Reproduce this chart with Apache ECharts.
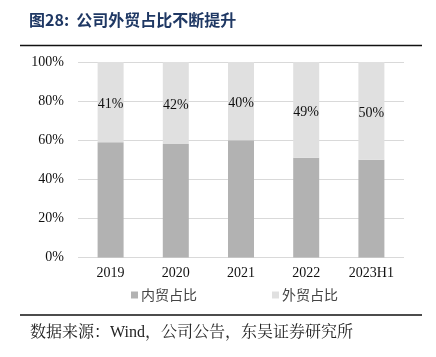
<!DOCTYPE html>
<html><head><meta charset="utf-8">
<script src="https://cdn.jsdelivr.net/npm/echarts@6/dist/echarts.min.js"></script>
<style>html,body{margin:0;padding:0;background:#fff}#c{width:436px;height:357px}</style>
</head><body><div id="c"></div>
<script>
const categories = ['2019','2020','2021','2022','2023H1'];
const domesticShare = [59, 58, 60, 51, 50];
const foreignShare = [41, 42, 40, 49, 50];
const yTicks = [0, 20, 40, 60, 80, 100];
const seriesNames = ['内贸占比', '外贸占比'];

const serif = '"Liberation Serif","Times New Roman","Noto Serif CJK SC","Noto Sans CJK SC",serif';
const chart = echarts.init(document.getElementById('c'));
chart.setOption({
  animation: false,
  grid: {left: 78, right: 32, top: 62, bottom: 99.5},
  legend: {
    data: seriesNames, top: 283, left: 126, itemWidth: 7, itemHeight: 7, itemGap: 75,
    icon: 'rect',
    textStyle: {fontFamily: '"Noto Sans CJK SC",sans-serif', fontSize: 14, color: '#444', padding: [0, 0, 0, -2]}
  },
  xAxis: {
    type: 'category', data: categories,
    axisLine: {show: false}, axisTick: {show: false},
    axisLabel: {fontFamily: serif, fontSize: 14, color: '#111', margin: 9}
  },
  yAxis: {
    type: 'value', min: 0, max: 100, interval: 20,
    axisLabel: {formatter: v => yTicks.includes(v) ? v + '%' : '', fontFamily: serif, fontSize: 14, color: '#111', margin: 14},
    splitLine: {lineStyle: {color: '#d9d9d9', width: 1}}
  },
  series: [
    {name: seriesNames[0], type: 'bar', stack: 's', barWidth: 26, data: domesticShare, itemStyle: {color: '#b2b2b2'}},
    {name: seriesNames[1], type: 'bar', stack: 's', barWidth: 26, data: foreignShare, itemStyle: {color: '#e0e0e0'},
     label: {show: true, position: 'inside', offset: [0, 2], formatter: p => p.value + '%', fontFamily: serif, fontSize: 14, color: '#111'}}
  ],
  graphic: [
    {type: 'text', left: 29, top: 12, style: {text: '图28:  公司外贸占比不断提升', fontFamily: '"Noto Sans CJK SC",sans-serif', fontSize: 16, fontWeight: 'bold', fill: '#1f3864'}},
    {type: 'line', shape: {x1: 20, y1: 45.5, x2: 422, y2: 45.5}, style: {stroke: '#111', lineWidth: 1.5}},
    {type: 'line', shape: {x1: 20, y1: 315, x2: 422, y2: 315}, style: {stroke: '#111', lineWidth: 1.5}},
    {type: 'text', left: 30, top: 325, style: {text: '数据来源：Wind，公司公告，东吴证券研究所', fontFamily: serif, fontSize: 16, fill: '#222'}}
  ]
});
</script></body></html>
